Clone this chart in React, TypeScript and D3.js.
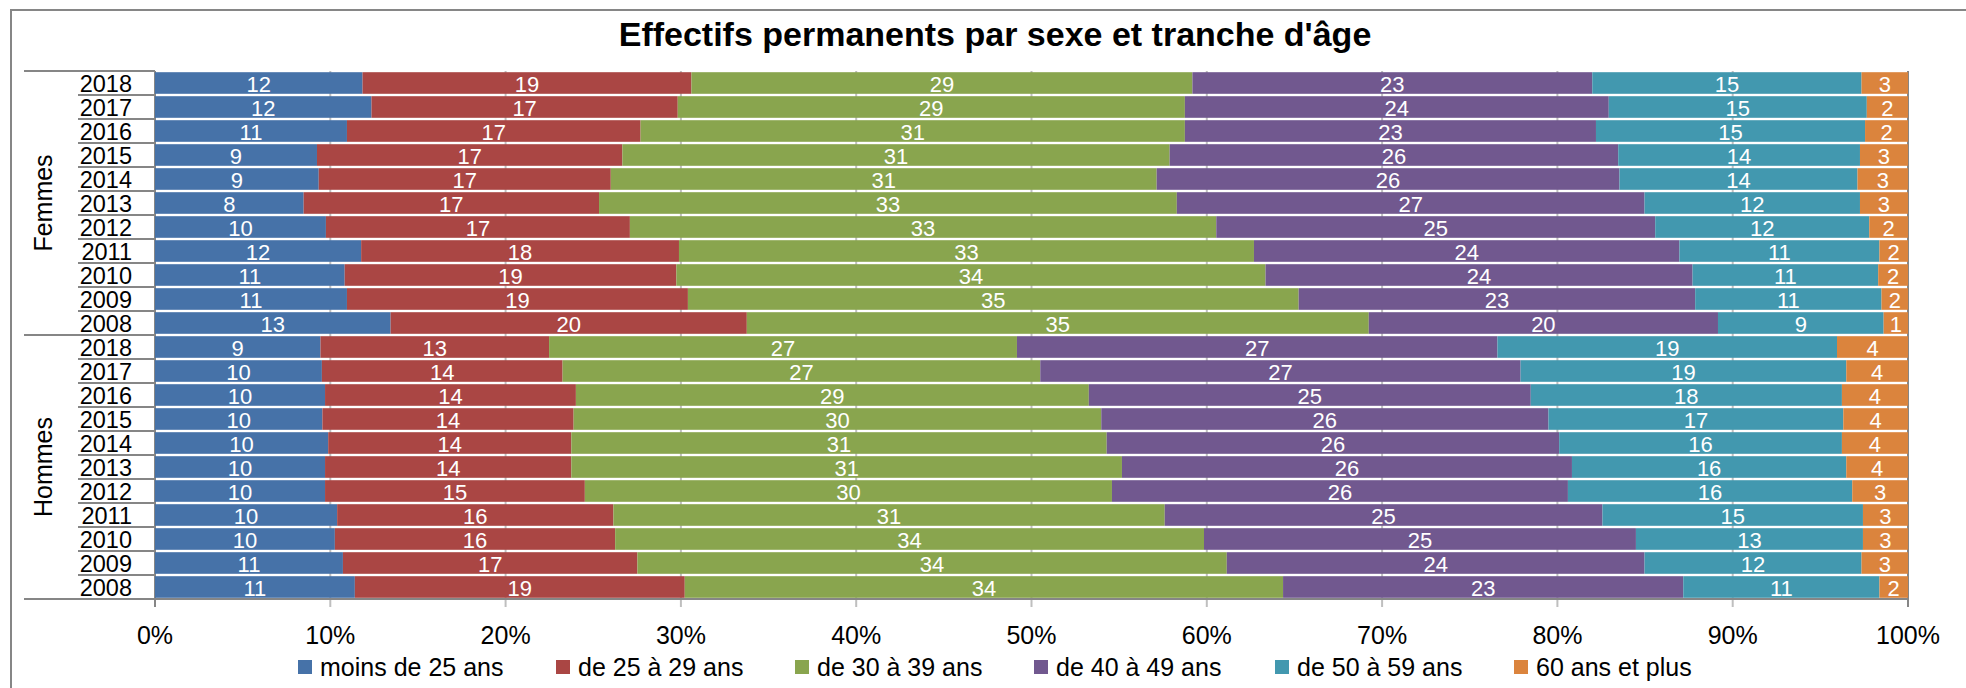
import React from "react";
import * as d3 from "d3";

const groups = ["Femmes", "Hommes"];
const years = ["2018", "2017", "2016", "2015", "2014", "2013", "2012", "2011", "2010", "2009", "2008"];
const seriesNames = ["moins de 25 ans", "de 25 à 29 ans", "de 30 à 39 ans", "de 40 à 49 ans", "de 50 à 59 ans", "60 ans et plus"];
const colors = ["#4672A8", "#AA4644", "#89A54E", "#71588F", "#4298AF", "#DB843D"];
const xTicks = [0, 10, 20, 30, 40, 50, 60, 70, 80, 90, 100];

// rows: Femmes 2018..2008 then Hommes 2018..2008 (percent of total)
const moins25 = [11.84, 12.35, 10.95, 9.24, 9.34, 8.48, 9.75, 11.76, 10.82, 10.95, 13.44, 9.44, 9.52, 9.7, 9.55, 9.88, 9.7, 9.7, 10.39, 10.26, 10.72, 11.4];
const de25a29 = [18.76, 17.47, 16.75, 17.42, 16.66, 16.85, 17.34, 18.13, 18.92, 19.45, 20.32, 13.04, 13.73, 14.31, 14.33, 13.87, 14.05, 14.82, 15.76, 15.99, 16.8, 18.82];
const de30a39 = [28.58, 28.93, 31.05, 31.22, 31.14, 32.96, 33.45, 32.8, 33.61, 34.84, 35.48, 26.69, 27.25, 29.26, 30.1, 30.54, 31.41, 30.07, 31.45, 33.59, 33.62, 34.13];
const de40a49 = [22.81, 24.18, 23.45, 25.59, 26.4, 26.68, 25.04, 24.27, 24.36, 22.62, 19.92, 27.41, 27.4, 25.21, 25.51, 25.81, 25.67, 26.01, 24.97, 24.64, 23.83, 22.83];
const de50a59 = [15.36, 14.72, 15.35, 13.79, 13.58, 12.29, 12.21, 11.41, 10.59, 10.63, 9.45, 19.37, 18.58, 17.75, 16.82, 16.13, 15.65, 16.22, 14.86, 12.95, 12.38, 11.19];
const plus60 = [2.65, 2.35, 2.45, 2.74, 2.88, 2.74, 2.21, 1.63, 1.7, 1.51, 1.39, 4.05, 3.52, 3.77, 3.69, 3.77, 3.52, 3.18, 2.57, 2.57, 2.65, 1.63];

const seriesValues = [moins25, de25a29, de30a39, de40a49, de50a59, plus60];

const W = 1966, H = 688;
const plot = { left: 155, right: 1908, top: 71, bottom: 599 };
const font = "'Liberation Sans', Arial, sans-serif";
const axisColor = "#868686";

export default function App() {
  const rows = groups.flatMap(g => years.map(y => ({ key: g + "-" + y, group: g, year: y })));
  const table = rows.map((r, i) => {
    const o: any = { key: r.key };
    seriesNames.forEach((s, j) => (o[s] = seriesValues[j][i]));
    return o;
  });
  const stacked = d3.stack().keys(seriesNames)(table);

  const x = d3.scaleLinear().domain([0, 100]).range([plot.left, plot.right]);
  const y = d3.scaleBand().domain(rows.map(r => r.key)).range([plot.top, plot.bottom]).paddingInner(0.1).paddingOuter(0.05);
  const step = y.step();
  const groupY = d3.scaleBand().domain(groups).range([plot.top, plot.bottom]);

  const legendX = [298, 556, 795, 1034, 1275, 1514];

  return (
    <svg width={W} height={H} style={{ position: "absolute", left: 0, top: 0, display: "block", background: "#fff" }} fontFamily={font}>
      <rect x={11} y={10} width={W} height={H} fill="#fff" stroke={axisColor} strokeWidth={2} />
      <text x={995} y={46} textAnchor="middle" fontSize={34} fontWeight="bold" fill="#000">
        Effectifs permanents par sexe et tranche d'âge
      </text>

      {/* gridlines */}
      {xTicks.map(t => (
        <line key={"g" + t} x1={x(t)} x2={x(t)} y1={plot.top} y2={plot.bottom + 8} stroke={t === 0 || t === 100 ? axisColor : "#BFBFBF"} strokeWidth={2} />
      ))}

      {/* bars */}
      {stacked.map((s, si) => (
        <g key={s.key} fill={colors[si]}>
          {s.map((d, i) => (
            <rect key={i} x={x(d[0])} y={y(rows[i].key)} width={x(d[1]) - x(d[0])} height={y.bandwidth()} />
          ))}
        </g>
      ))}

      {/* data labels */}
      {stacked.map((s, si) => (
        <g key={"l" + s.key} fill="#fff" fontSize={22} textAnchor="middle">
          {s.map((d, i) => (
            <text key={i} x={(x(d[0]) + x(d[1])) / 2} y={(y(rows[i].key) as number) + y.bandwidth() / 2 + 8.5}>
              {Math.round(d[1] - d[0])}
            </text>
          ))}
        </g>
      ))}

      {/* category axis */}
      <line x1={plot.left} x2={plot.right} y1={plot.bottom} y2={plot.bottom} stroke={axisColor} strokeWidth={2} />
      {rows.map((r, i) => (
        <g key={"c" + r.key}>
          <text x={132} y={plot.top + step * i + step / 2 + 9} textAnchor="end" fontSize={23.5} fill="#000">{r.year}</text>
          <line x1={78} x2={plot.left} y1={plot.top + step * (i + 1)} y2={plot.top + step * (i + 1)} stroke={axisColor} strokeWidth={2} />
        </g>
      ))}
      {groups.map(g => (
        <g key={"grp" + g}>
          <line x1={24} x2={plot.left} y1={groupY(g)} y2={groupY(g)} stroke={axisColor} strokeWidth={2} />
          <line x1={24} x2={plot.left} y1={(groupY(g) as number) + groupY.bandwidth()} y2={(groupY(g) as number) + groupY.bandwidth()} stroke={axisColor} strokeWidth={2} />
          <text transform={`translate(52,${(groupY(g) as number) + groupY.bandwidth() / 2}) rotate(-90)`} textAnchor="middle" fontSize={25} fill="#000">{g}</text>
        </g>
      ))}

      {/* value axis labels */}
      {xTicks.map(t => (
        <text key={"t" + t} x={x(t)} y={644} textAnchor="middle" fontSize={25} fill="#000">{t}%</text>
      ))}

      {/* legend */}
      {seriesNames.map((s, i) => (
        <g key={"lg" + s}>
          <rect x={legendX[i]} y={660} width={14} height={14} fill={colors[i]} />
          <text x={legendX[i] + 22} y={676} fontSize={25} fill="#000">{s}</text>
        </g>
      ))}
    </svg>
  );
}
